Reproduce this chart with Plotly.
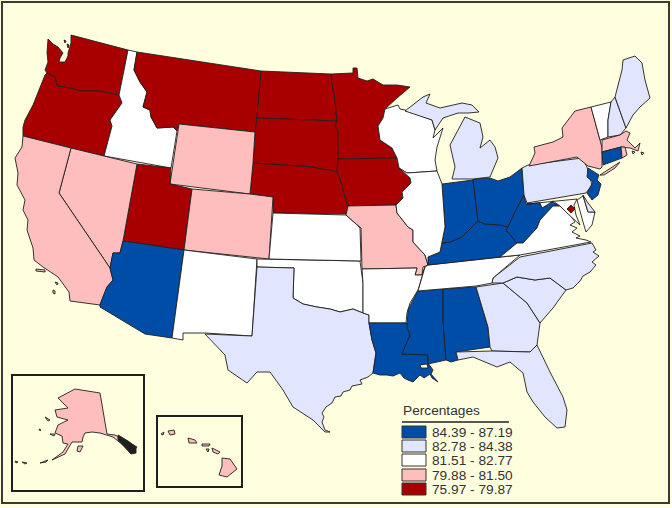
import plotly.graph_objects as go

# legend classes, darkest blue first
class_labels = ['84.39 - 87.19', '82.78 - 84.38', '81.51 - 82.77', '79.88 - 81.50', '75.97 - 79.87']
class_colors = ['#004da8', '#e1e5fd', '#ffffff', '#ffbebe', '#a80000']

class_states = [
  ['AZ', 'LA', 'MS', 'AL', 'KY', 'IN', 'OH', 'WV', 'NJ', 'CT'],
  ['TX', 'MI', 'PA', 'GA', 'SC', 'NC', 'FL', 'ME', 'NH', 'DE'],
  ['ID', 'WI', 'IL', 'KS', 'NM', 'OK', 'AR', 'TN', 'VA', 'VT', 'MD'],
  ['CA', 'NV', 'WY', 'CO', 'MO', 'NY', 'MA', 'RI', 'AK', 'HI'],
  ['WA', 'OR', 'MT', 'ND', 'SD', 'MN', 'NE', 'IA', 'UT', 'DC'],
]

# no topojson without network, so state outlines are traced off the picture (image pixels)
outlines = {
  'WA': [[(48,39),(53,44),(58,47),(63,53),(60,58),(59,62),(65,62),(68,56),(68,53),(71,43),(71,35),(128,50),(119,95),(100,91),(80,91),(70,88),(57,86),(55,77),(47,73),(45,70),(48,62),(47,53)],
         [(64,40),(66,41),(65,43)], [(67,44),(69,45),(68,48)]],
  'OR': [[(47,73),(55,77),(57,86),(70,88),(80,91),(100,91),(119,95),(122,103),(110,120),(112,126),(104,156),(23,136),(23,127),(25,120),(33,105),(40,87),(45,75)]],
  'ID': [[(128,50),(137,52),(134,70),(140,82),(147,92),(143,107),(150,110),(151,117),(157,128),(173,127),(177,131),(171,168),(104,156),(112,126),(110,120),(122,103),(119,95)]],
  'MT': [[(137,52),(220,65),(261,71),(257,118),(255,132),(179,124),(177,131),(173,127),(157,128),(151,117),(150,110),(143,107),(147,92),(140,82),(134,70)]],
  'ND': [[(261,71),(331,74),(332,83),(335,100),(337,121),(257,118)]],
  'SD': [[(257,118),(337,121),(335,126),(338,130),(338,158),(337,172),(330,170),(320,169),(313,167),(253,163),(255,132)]],
  'MN': [[(331,74),(353,73),(353,68),(357,68),(358,78),(367,81),(373,79),(383,85),(397,85),(410,87),(397,98),(385,109),(383,118),(378,126),(380,140),(392,148),(397,158),(338,159),(338,130),(335,126),(337,121),(335,100),(332,83)]],
  'NE': [[(253,163),(313,167),(320,169),(330,170),(337,172),(340,178),(345,197),(350,214),(273,213),(273,197),(250,194)]],
  'IA': [[(338,159),(397,158),(399,168),(410,178),(411,183),(402,192),(403,198),(396,205),(348,206),(345,197),(340,178),(337,172)]],
  'WY': [[(179,124),(255,132),(253,163),(250,194),(170,184)]],
  'UT': [[(137,164),(171,168),(170,184),(192,189),(184,250),(123,241)]],
  'NV': [[(71,148),(137,164),(123,241),(120,253),(113,253),(110,268),(59,193)]],
  'CA': [[(23,136),(71,148),(59,193),(110,268),(113,280),(107,287),(103,297),(100,305),(70,301),(69,292),(58,277),(43,267),(34,260),(33,248),(27,230),(28,220),(23,210),(25,200),(17,185),(18,173),(15,158),(22,147)],
         [(36,269),(45,270),(45,272),(36,271)], [(55,282),(58,283),(57,285)], [(53,290),(55,291),(55,294),(53,293)]],
  'AZ': [[(123,241),(184,250),(172,338),(145,334),(100,307),(100,305),(103,297),(107,287),(113,280),(110,268),(113,253),(120,253)]],
  'CO': [[(192,189),(250,194),(273,197),(269,259),(184,250)]],
  'NM': [[(184,250),(257,259),(252,336),(205,333),(183,333),(183,340),(172,338)]],
  'OK': [[(257,259),(360,261),(363,283),(363,313),(353,309),(340,312),(330,309),(317,307),(303,304),(293,298),(294,268),(257,267)]],
  'KS': [[(273,213),(346,215),(355,223),(360,228),(361,261),(269,259)]],
  'TX': [[(257,267),(294,268),(293,298),(303,304),(317,307),(330,309),(340,312),(353,309),(363,313),(369,315),(369,323),(372,340),(376,353),(373,373),(368,377),(360,380),(362,384),(352,386),(350,390),(343,392),(341,396),(335,397),(332,403),(326,407),(322,413),(324,417),(322,422),(325,430),(330,432),(325,432),(313,420),(293,407),(283,390),(270,372),(257,372),(247,383),(228,370),(225,355),(205,334),(252,336)]],
  'MO': [[(348,206),(396,205),(397,213),(408,227),(413,230),(413,242),(425,255),(428,265),(423,267),(422,275),(415,275),(417,268),(362,269),(361,228),(355,223),(346,215)]],
  'AR': [[(362,269),(417,268),(415,275),(422,275),(425,267),(418,290),(410,303),(407,313),(406,323),(369,323),(369,315),(363,313),(363,283)]],
  'LA': [[(369,323),(407,323),(411,333),(402,354),(428,353),(428,363),(433,370),(431,374),(438,382),(432,378),(430,374),(424,378),(420,375),(413,382),(408,380),(404,378),(400,373),(393,376),(387,375),(380,375),(373,373),(376,353),(372,340)]],
  'MS': [[(418,291),(443,289),(443,320),(446,360),(428,364),(428,355),(402,354),(410,335),(407,327),(408,310),(413,300)]],
  'AL': [[(443,289),(476,287),(488,327),(490,347),(456,352),(458,360),(451,362),(446,360),(443,320)]],
  'GA': [[(476,287),(503,283),(527,303),(540,323),(537,345),(530,352),(492,351),(490,347),(488,327)]],
  'SC': [[(503,283),(517,277),(535,280),(550,278),(566,290),(553,308),(540,323),(527,303)]],
  'NC': [[(492,283),(493,278),(520,257),(592,243),(596,250),(593,252),(599,256),(592,262),(596,265),(590,272),(583,276),(580,281),(573,288),(566,290),(550,278),(535,280),(517,277),(503,283)]],
  'TN': [[(418,291),(425,267),(428,265),(503,257),(520,255),(493,278),(492,283),(476,286),(443,289)]],
  'KY': [[(428,265),(428,257),(440,252),(442,243),(450,242),(462,237),(472,227),(478,221),(485,224),(500,225),(508,227),(506,230),(517,243),(500,257)]],
  'IN': [[(442,184),(473,180),(478,221),(472,227),(462,237),(450,242),(442,243),(445,227)]],
  'OH': [[(473,179),(490,178),(498,181),(510,177),(522,168),(524,195),(515,212),(508,227),(500,225),(485,224),(478,221)]],
  'WV': [[(524,195),(526,204),(540,203),(542,208),(552,202),(560,206),(553,206),(547,212),(540,220),(537,228),(523,243),(517,243),(506,230),(508,227),(515,212)]],
  'PA': [[(522,168),(528,165),(582,158),(587,167),(592,185),(586,193),(527,203),(524,195)]],
  'NJ': [[(588,168),(599,175),(597,180),(601,184),(598,195),(592,200),(587,193),(593,182),(587,177)]],
  'NY': [[(529,166),(535,153),(534,147),(553,142),(563,137),(562,128),(575,111),(591,107),(600,140),(602,148),(602,167),(600,169),(588,166),(577,157)],
         [(600,175),(620,162),(615,168),(604,175)]],
  'VT': [[(591,107),(611,102),(608,120),(608,137),(600,140)]],
  'NH': [[(611,102),(615,97),(626,128),(620,135),(608,137),(608,120)]],
  'ME': [[(615,97),(622,70),(623,60),(635,56),(642,63),(645,80),(650,98),(640,107),(633,115),(626,128)]],
  'MA': [[(602,140),(620,135),(626,131),(630,133),(627,140),(635,148),(640,143),(638,151),(630,148),(621,147),(602,152)],
         [(632,151),(635,152),(633,154)], [(641,152),(644,153),(642,155)]],
  'CT': [[(602,152),(621,147),(622,158),(603,165)]],
  'RI': [[(621,147),(625,147),(627,155),(622,158)]],
  'VA': [[(500,257),(517,243),(523,243),(537,228),(540,220),(547,212),(553,206),(560,206),(566,212),(570,215),(575,222),(570,225),(577,228),(572,232),(580,236),(576,238),(586,240),(591,242),(520,255)]],
  'MD': [[(527,204),(577,199),(574,205),(576,215),(580,225),(572,218),(566,212),(560,206),(553,201),(547,205),(542,208),(540,203)],
         [(577,200),(583,196),(588,212),(595,212),(592,225),(586,232),(583,222),(580,212)]],
  'DE': [[(583,195),(588,203),(595,212),(588,212)]],
  'DC': [[(571,205),(575,209),(571,213),(567,209)]],
  'WI': [[(385,109),(398,105),(400,109),(405,110),(432,120),(435,130),(433,138),(443,128),(437,147),(435,160),(437,171),(407,173),(399,168),(397,158),(392,148),(380,140),(378,126),(383,118)]],
  'IL': [[(399,168),(407,173),(437,171),(442,184),(445,227),(442,243),(440,252),(428,257),(428,265),(425,255),(413,242),(413,230),(408,227),(397,213),(396,205),(403,198),(402,192),(411,183),(410,178)]],
  'MI': [[(405,111),(413,105),(423,97),(430,94),(426,103),(440,108),(462,103),(472,105),(479,112),(468,113),(458,113),(443,118),(435,130),(432,120)],
         [(452,179),(455,167),(450,145),(458,130),(465,117),(480,123),(483,137),(480,148),(490,140),(495,147),(498,158),(490,177),(473,179)]],
  'FL': [[(456,352),(492,351),(530,352),(537,345),(550,372),(563,397),(567,410),(565,427),(557,428),(545,417),(533,402),(527,392),(523,373),(510,362),(497,367),(485,362),(473,357),(458,360)]],
  'AK': [[(75,389),(100,393),(107,434),(115,435),(125,440),(137,447),(133,452),(123,445),(113,437),(100,433),(92,432),(85,433),(83,437),(82,442),(72,442),(65,454),(52,460),(63,452),(68,444),(63,443),(62,436),(55,433),(58,425),(68,420),(57,417),(55,410),(68,408),(58,398)],
         [(45,417),(50,420),(48,421)], [(39,429),(41,430),(40,431)], [(15,461),(18,462),(16,463)], [(22,462),(27,463),(25,464)],
         [(40,463),(48,460),(46,462)], [(78,446),(83,446),(80,452),(77,451)], [(50,434),(55,434),(54,436)]],
  'HI': [[(168,431),(174,430),(175,434),(170,435)], [(161,434),(164,432),(163,435)], [(188,438),(195,440),(197,443),(189,443)],
         [(202,444),(210,444),(209,446),(202,446)], [(206,449),(209,449),(208,452)], [(212,448),(220,452),(218,454),(213,452)],
         [(222,458),(230,459),(237,469),(227,477),(219,475),(222,466)]],
  # lake cut out of Louisiana, dense islands of the Alaska panhandle
  'lake': [[(420,365),(427,364),(428,368),(421,368)]],
  'panhandle': [[(118,435),(128,441),(136,447),(136,453),(131,454),(124,447),(118,440)]],
}

panel_color = '#ffffe0'
line_color = '#1f1f1f'

color_of = {'lake': panel_color, 'panhandle': line_color}
for color, names in zip(class_colors, class_states):
  for name in names:
    color_of[name] = color

fig = go.Figure()
for name, rings in outlines.items():
  xs, ys = [], []
  for ring in rings:
    xs += [p[0] for p in ring] + [ring[0][0], None]
    ys += [p[1] for p in ring] + [ring[0][1], None]
  fig.add_trace(go.Scatter(
      x=xs, y=ys, name=name,
      mode='lines', fill='toself',
      fillcolor=color_of[name],
      line=dict(color=line_color, width=0.9),
      showlegend=False, hoverinfo='name',
  ))

# frame and the two inset boxes
shapes = [
  dict(type='rect', x0=2, y0=2, x1=669, y1=503, line=dict(color='#3a3a3a', width=2)),
  dict(type='rect', x0=12, y0=375, x1=144, y1=491, line=dict(color=line_color, width=2)),
  dict(type='rect', x0=157, y0=416, x1=242, y1=487, line=dict(color=line_color, width=2)),
  dict(type='line', x0=402, y0=422, x1=509, y1=422, line=dict(color=line_color, width=1.5)),
]
annotations = [dict(x=400.5, y=410, text='Percentages', xanchor='left', yanchor='middle', showarrow=False)]
swatch_tops = [426, 440, 454, 469, 483]
for top, label, color in zip(swatch_tops, class_labels, class_colors):
  shapes.append(dict(type='rect', x0=402, y0=top, x1=426, y1=top + 12,
                     fillcolor=color, line=dict(color='#333333', width=1)))
  annotations.append(dict(x=429.5, y=top + 6.5, text=label, xanchor='left', yanchor='middle', showarrow=False))

fig.update_layout(
  width=672,
  height=508,
  margin=dict(l=0, r=0, t=0, b=0),
  paper_bgcolor=panel_color,
  plot_bgcolor=panel_color,
  font=dict(family='Liberation Sans', size=13.7, color='#333333'),
  xaxis=dict(range=[0, 672], visible=False, fixedrange=True),
  yaxis=dict(range=[508, 0], visible=False, fixedrange=True),
  shapes=shapes,
  annotations=annotations,
)
fig.write_html("out.html", config={'displayModeBar': False}, post_script="document.body.style.margin='0';")
